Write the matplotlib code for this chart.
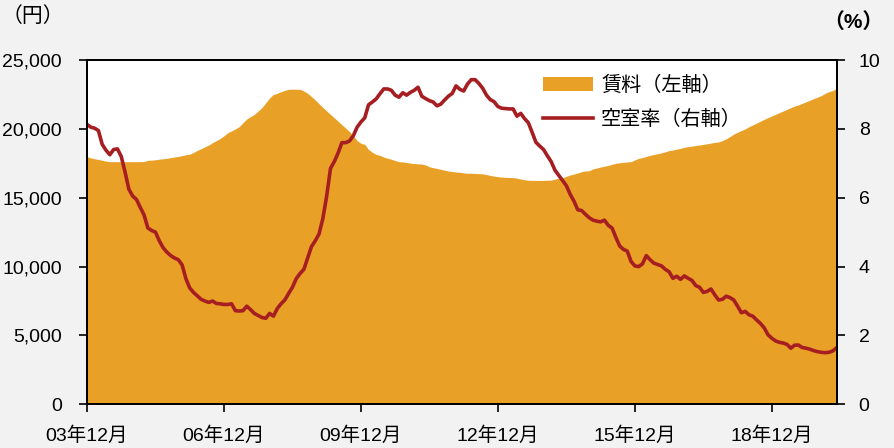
import matplotlib
matplotlib.use("Agg")
import matplotlib.pyplot as plt
import matplotlib.ticker as ticker
import numpy as np

plt.rcParams['font.family'] = ['Liberation Sans', 'Noto Sans CJK JP', 'DejaVu Sans']

# monthly data, Dec 2003 -> May 2020
rent = [
    17980, 17900, 17830, 17780, 17720, 17660, 17620, 17620, 17620, 17620,
    17620, 17620, 17620, 17620, 17620, 17630, 17720, 17730, 17760, 17800,
    17830, 17860, 17910, 17960, 18000, 18060, 18120, 18160, 18290, 18440,
    18560, 18700, 18830, 19000, 19150, 19300, 19500, 19720, 19850, 20000,
    20160, 20450, 20720, 20900, 21050, 21300, 21550, 21900, 22250, 22500,
    22580, 22700, 22800, 22870, 22880, 22880, 22870, 22750, 22580, 22350,
    22100, 21820, 21550, 21300, 21050, 20800, 20550, 20300, 20050, 19800,
    19500, 19150, 18950, 18880, 18500, 18300, 18150, 18080, 17950, 17870,
    17800, 17700, 17620, 17600, 17560, 17510, 17480, 17460, 17450, 17380,
    17250, 17180, 17130, 17060, 17000, 16940, 16900, 16870, 16850, 16800,
    16780, 16780, 16760, 16750, 16740, 16680, 16620, 16570, 16530, 16500,
    16480, 16470, 16460, 16420, 16360, 16300, 16270, 16260, 16260, 16260,
    16260, 16270, 16280, 16350, 16420, 16460, 16560, 16650, 16720, 16800,
    16890, 16950, 16960, 17100, 17160, 17230, 17290, 17350, 17430, 17500,
    17540, 17570, 17600, 17620, 17750, 17860, 17920, 18000, 18080, 18140,
    18200, 18260, 18340, 18420, 18470, 18530, 18590, 18660, 18710, 18750,
    18790, 18830, 18870, 18920, 18970, 19020, 19050, 19150, 19280, 19450,
    19620, 19760, 19880, 20000, 20160, 20290, 20420, 20560, 20700, 20820,
    20940, 21060, 21180, 21300, 21420, 21540, 21660, 21740, 21860, 21970,
    22080, 22200, 22300, 22420, 22580, 22700, 22780, 22950,
]

vacancy = [
    8.13, 8.05, 8.02, 7.95, 7.55, 7.38, 7.25, 7.40, 7.42, 7.20,
    6.75, 6.25, 6.05, 5.95, 5.72, 5.50, 5.12, 5.05, 5.00, 4.75,
    4.55, 4.42, 4.32, 4.25, 4.20, 4.05, 3.65, 3.38, 3.25, 3.15,
    3.05, 3.00, 2.96, 3.00, 2.93, 2.92, 2.90, 2.90, 2.92, 2.72,
    2.71, 2.72, 2.85, 2.75, 2.64, 2.58, 2.52, 2.50, 2.64, 2.56,
    2.78, 2.92, 3.03, 3.22, 3.40, 3.65, 3.80, 3.92, 4.25, 4.58,
    4.75, 4.95, 5.40, 6.05, 6.85, 7.05, 7.30, 7.60, 7.60, 7.65,
    7.80, 8.05, 8.20, 8.32, 8.70, 8.78, 8.87, 9.02, 9.16, 9.16,
    9.12, 8.98, 8.92, 9.05, 8.98, 9.06, 9.12, 9.21, 8.95, 8.88,
    8.82, 8.78, 8.67, 8.72, 8.84, 8.95, 9.03, 9.25, 9.15, 9.10,
    9.30, 9.43, 9.43, 9.32, 9.18, 8.98, 8.85, 8.79, 8.65, 8.60,
    8.59, 8.58, 8.58, 8.37, 8.45, 8.30, 8.18, 7.90, 7.61, 7.50,
    7.40, 7.22, 7.05, 6.80, 6.65, 6.50, 6.35, 6.10, 5.90, 5.65,
    5.63, 5.52, 5.42, 5.35, 5.32, 5.30, 5.35, 5.20, 5.12, 4.85,
    4.60, 4.50, 4.45, 4.15, 4.02, 4.00, 4.08, 4.32, 4.20, 4.10,
    4.06, 4.02, 3.92, 3.85, 3.66, 3.72, 3.63, 3.73, 3.66, 3.60,
    3.45, 3.40, 3.25, 3.28, 3.35, 3.18, 3.03, 3.05, 3.14, 3.10,
    3.03, 2.85, 2.66, 2.70, 2.60, 2.56, 2.45, 2.35, 2.22, 2.02,
    1.92, 1.84, 1.80, 1.78, 1.74, 1.63, 1.72, 1.72, 1.65, 1.63,
    1.60, 1.56, 1.53, 1.51, 1.50, 1.51, 1.55, 1.64,
]

tick_pos = [0, 36, 72, 108, 144, 180]
tick_labels = ['03年12月', '06年12月', '09年12月', '12年12月', '15年12月', '18年12月']

orange = '#E8A126'
red = '#A61E22'

fig = plt.figure(figsize=(8.94, 4.48), dpi=100, facecolor='#F2F2F2')
ax1 = fig.add_axes([0.0973, 0.0975, 0.8384, 0.7685])
ax1.set_facecolor('white')

x = np.arange(len(rent))
area = ax1.fill_between(x, rent, color=orange, linewidth=0, label='賃料（左軸）')
ax1.set_xlim(0, len(rent) - 1)
ax1.set_ylim(0, 25000)
ax1.yaxis.set_major_locator(ticker.MultipleLocator(5000))
ax1.yaxis.set_major_formatter(ticker.StrMethodFormatter('{x:,.0f}'))
ax1.set_xticks(tick_pos)
ax1.set_xticklabels(tick_labels)

ax2 = ax1.twinx()
line, = ax2.plot(x, vacancy, color=red, linewidth=2.6, label='空室率（右軸）')
ax2.set_ylim(0, 10)
ax2.yaxis.set_major_locator(ticker.MultipleLocator(2))

for ax in (ax1, ax2):
    for s in ax.spines.values():
        s.set_linewidth(1.4)
        s.set_color('black')

ax1.tick_params(axis='y', direction='out', length=6, width=1.2, labelsize=14, pad=12)
ax1.tick_params(axis='x', direction='out', length=6, width=1.2, labelsize=14, pad=10)
ax2.tick_params(axis='y', direction='out', length=6, width=1.2, labelsize=14, pad=10)

ax2.legend([area, line], ['賃料（左軸）', '空室率（右軸）'], loc='upper left',
           bbox_to_anchor=(0.608, 0.955), frameon=False, fontsize=14.5,
           borderpad=0, borderaxespad=0, handlelength=2.5, handletextpad=0.4,
           labelspacing=0.75)

fig.text(0.037, 0.965, '（円）', fontsize=15, ha='center', va='center')
fig.text(0.954, 0.952, '（%）', fontsize=15, ha='center', va='center', fontweight='bold')

fig.savefig('out.png', dpi=100, facecolor=fig.get_facecolor())
